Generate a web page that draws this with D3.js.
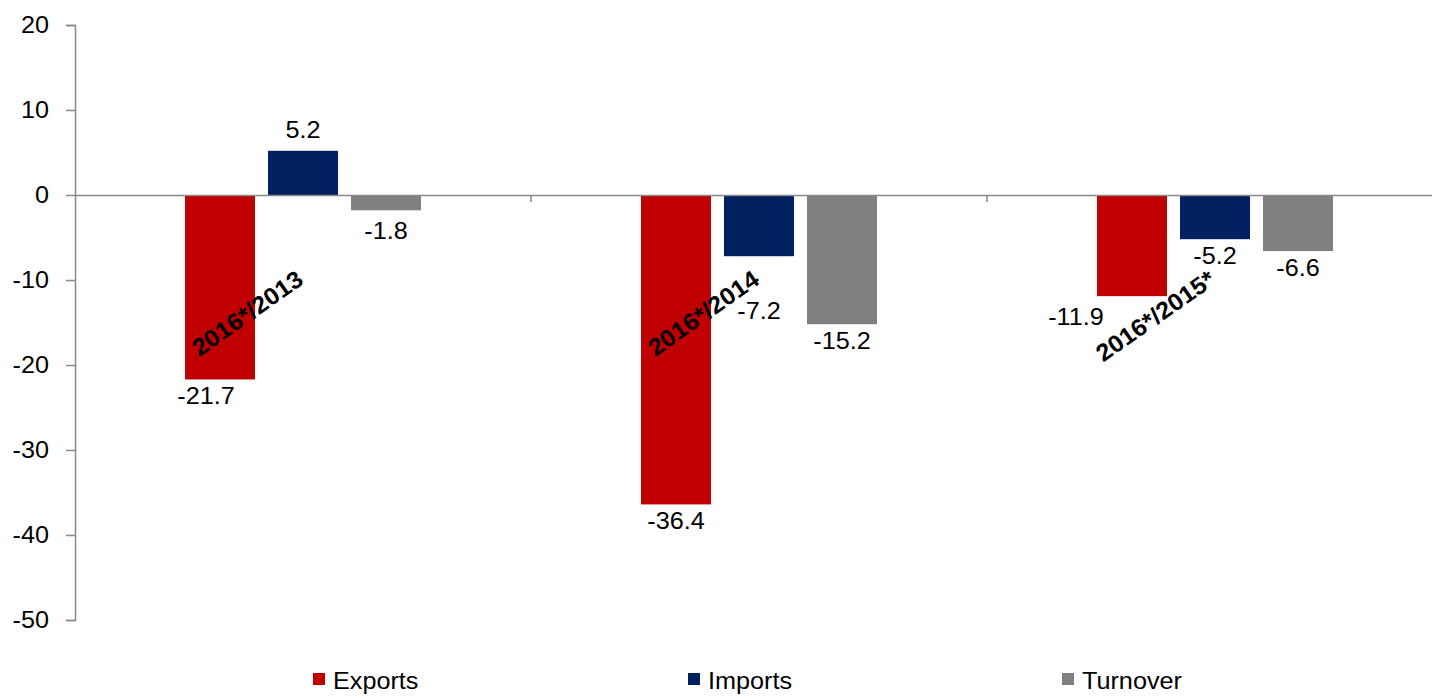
<!DOCTYPE html>
<html>
<head>
<meta charset="utf-8">
<script src="https://cdn.jsdelivr.net/npm/d3@7"></script>
<style>
  html, body { margin: 0; padding: 0; background: #fff; }
  svg { display: block; }
  text { font-family: "Liberation Sans", Arial, sans-serif; fill: #000; }
</style>
</head>
<body>
<svg id="chart" width="1432" height="696"></svg>
<script>
// ---- data ----
const categories = ["2016*/2013", "2016*/2014", "2016*/2015*"];
const seriesNames = ["Exports", "Imports", "Turnover"];
const exportsValues = [-21.7, -36.4, -11.9];
const importsValues = [5.2, -7.2, -5.2];
const turnoverValues = [-1.8, -15.2, -6.6];
const yTicks = [20, 10, 0, -10, -20, -30, -40, -50];

// ---- styles / layout (not data) ----
const colors = { Exports: "#C00000", Imports: "#002060", Turnover: "#808080" };
const axisColor = "#898989";
const stretch = 1.05; // horizontal glyph stretch seen in the reference
// manual label nudges seen in the reference (px)
const labelNudge = {
  "2016*/2013|Exports": [-14, 0],
  "2016*/2013|Turnover": [0, 4],
  "2016*/2014|Imports": [0, 38],
  "2016*/2015*|Exports": [-56, 4]
};

const svg = d3.select("#chart");
const plot = { left: 75, right: 1443, top: 25, bottom: 620 };

const y = d3.scaleLinear().domain([-50, 20]).range([plot.bottom, plot.top]);
const x0 = d3.scaleBand().domain(categories).range([plot.left, plot.right]).padding(0);
const groupInner = [110, 346];
const x1 = d3.scaleBand().domain(seriesNames).range(groupInner).paddingInner(13 / 83).paddingOuter(0);

const valuesBySeries = { Exports: exportsValues, Imports: importsValues, Turnover: turnoverValues };
const rows = [];
categories.forEach((c, i) => {
  seriesNames.forEach(s => rows.push({ cat: c, series: s, value: valuesBySeries[s][i] }));
});

// bars
svg.append("g").selectAll("rect").data(rows).join("rect")
  .attr("x", d => x0(d.cat) + x1(d.series))
  .attr("width", x1.bandwidth())
  .attr("y", d => y(Math.max(0, d.value)))
  .attr("height", d => Math.abs(y(d.value) - y(0)))
  .attr("fill", d => colors[d.series]);

// y axis
const yAxis = d3.axisLeft(y).tickValues(yTicks).tickSize(9).tickPadding(17).tickFormat(d => String(d));
const yg = svg.append("g").attr("transform", `translate(${plot.left},0)`).call(yAxis);
yg.select(".domain").attr("stroke", axisColor).attr("stroke-width", 1.5);
yg.selectAll(".tick line").attr("stroke", axisColor).attr("stroke-width", 1.5);
yg.selectAll(".tick text").attr("font-size", 24)
  .attr("font-family", "Liberation Sans, Arial, sans-serif").attr("fill", "#000");

// zero line with category ticks
const xAxis = d3.axisBottom(x0).tickSize(0).tickFormat("");
const xg = svg.append("g").attr("transform", `translate(0,${y(0)})`).call(xAxis);
xg.select(".domain").attr("stroke", axisColor).attr("stroke-width", 1.5);
xg.selectAll(".tick").remove();
xg.selectAll("line.cat").data(categories.slice(1)).join("line")
  .attr("class", "cat")
  .attr("x1", d => x0(d)).attr("x2", d => x0(d))
  .attr("y1", 0).attr("y2", 7)
  .attr("stroke", axisColor).attr("stroke-width", 1.5);

// data labels
const fmt = v => v.toFixed(1);
svg.append("g").selectAll("text").data(rows).join("text")
  .attr("text-anchor", "middle")
  .attr("font-size", 24)
  .attr("x", d => x0(d.cat) + x1(d.series) + x1.bandwidth() / 2 + (labelNudge[d.cat + "|" + d.series] || [0, 0])[0])
  .attr("y", d => (d.value >= 0 ? y(d.value) - 13 : y(d.value) + 25) + (labelNudge[d.cat + "|" + d.series] || [0, 0])[1])
  .text(d => fmt(d.value));

// category labels (rotated)
svg.append("g").selectAll("text").data(categories).join("text")
  .attr("text-anchor", "end")
  .attr("font-size", 24)
  .attr("font-weight", "bold")
  .attr("transform", d => `translate(${x0(d) + x0.bandwidth() / 2 + 2},283) rotate(-35)`)
  .text(d => d);

// legend
const legendX = [313, 688, 1062];
const lg = svg.append("g").selectAll("g").data(seriesNames).join("g")
  .attr("transform", (d, i) => `translate(${legendX[i]},673)`);
lg.append("rect").attr("width", 12).attr("height", 12).attr("fill", d => colors[d]);
lg.append("text").attr("x", 20).attr("y", 16).attr("font-size", 24).text(d => d);

// apply horizontal stretch to text (reference glyphs are wider than normal)
svg.selectAll("text").each(function () {
  const len = this.getComputedTextLength();
  if (len > 0) {
    d3.select(this).attr("textLength", len * stretch).attr("lengthAdjust", "spacingAndGlyphs");
  }
});
</script>
</body>
</html>
